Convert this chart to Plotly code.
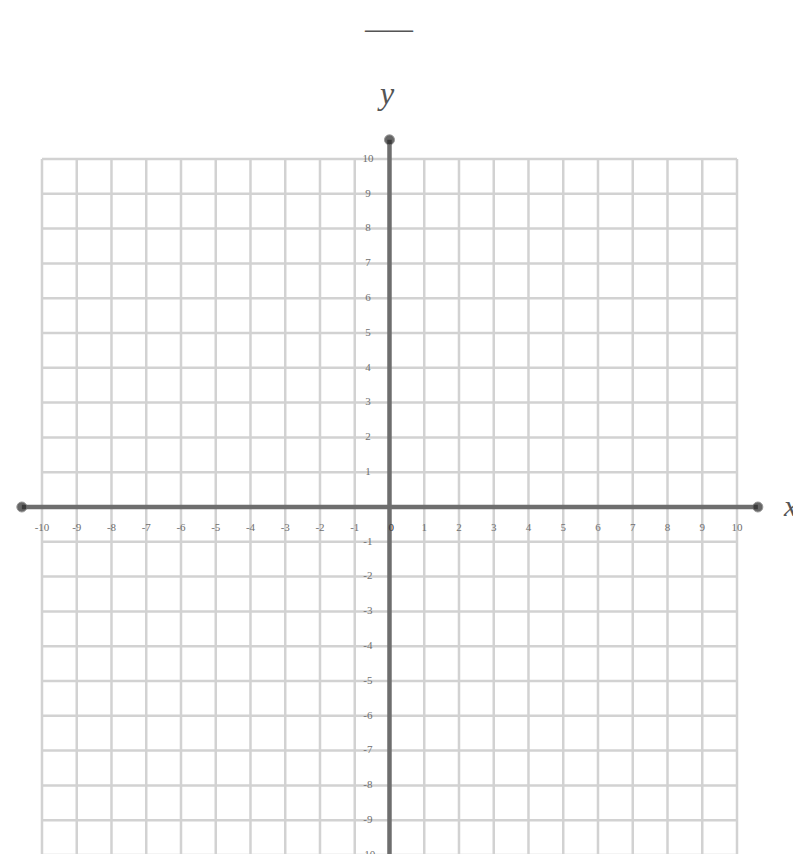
"""Blank coordinate grid, -10..10 on both axes, with arrowed x and y axes."""
import plotly.graph_objects as go

# grid values and tick labels
x_ticks = list(range(-10, 11))
y_ticks = list(range(-10, 11))
x_labels = [str(v) for v in x_ticks if v != 0]
y_labels = [str(v) for v in y_ticks if v != 0]
grid_min, grid_max = -10, 10
axis_x_ends = [-10.58, 10.6]
axis_y_ends = [-10.5, 10.55]

GRID = '#d2d2d2'
AXIS = '#6e6e6e'
LABEL = '#6f6f6f'

fig = go.Figure()

# grid lines (one trace, None-separated)
gx, gy = [], []
for v in x_ticks:
    gx += [v, v, None]
    gy += [grid_min, grid_max, None]
for v in y_ticks:
    gx += [grid_min, grid_max, None]
    gy += [v, v, None]
fig.add_trace(go.Scatter(x=gx, y=gy, mode='lines', line=dict(color=GRID, width=2.5),
                         hoverinfo='skip', showlegend=False))

# axes
fig.add_trace(go.Scatter(x=axis_x_ends, y=[0, 0], mode='lines+markers',
                         line=dict(color=AXIS, width=4.5),
                         marker=dict(color='#262626', size=[10, 10], symbol='circle'),
                         cliponaxis=False, hoverinfo='skip', showlegend=False))
fig.add_trace(go.Scatter(x=[0, 0], y=axis_y_ends, mode='lines+markers',
                         line=dict(color=AXIS, width=4.5),
                         marker=dict(color='#262626', size=[0, 10], symbol='circle'),
                         cliponaxis=False, hoverinfo='skip', showlegend=False))

# tick labels
fig.add_trace(go.Scatter(x=[v for v in x_ticks if v != 0], y=[-0.62] * len(x_labels),
                         mode='text', text=x_labels,
                         textfont=dict(family='Liberation Serif', size=11, color=LABEL),
                         cliponaxis=False, hoverinfo='skip', showlegend=False))
fig.add_trace(go.Scatter(x=[-0.62] * len(y_labels), y=[v for v in y_ticks if v != 0],
                         mode='text', text=y_labels,
                         textfont=dict(family='Liberation Serif', size=11, color=LABEL),
                         cliponaxis=False, hoverinfo='skip', showlegend=False))
fig.add_trace(go.Scatter(x=[0.05], y=[-0.6], mode='text', text=['0'],
                         textfont=dict(family='Liberation Serif', size=11, color='#333333'),
                         cliponaxis=False, hoverinfo='skip', showlegend=False))

# axis names and the dash at the top
fig.add_annotation(x=-0.1, y=11.9, xref='x', yref='y', text='<i>y</i>', showarrow=False,
                   font=dict(family='Liberation Serif', size=32, color='#555555'))
fig.add_annotation(x=11.55, y=0.05, xref='x', yref='y', text='<i>x</i>', showarrow=False,
                   font=dict(family='Liberation Serif', size=30, color='#555555'))
fig.add_annotation(x=0, y=13.75, xref='x', yref='y', text='<b>——</b>', showarrow=False,
                   font=dict(family='Liberation Serif', size=24, color='#555555'))

# ranges account for the 8px page margin so the grid lands where the reference has it
fig.update_xaxes(range=[-10.978, 12.072], visible=False, fixedrange=True)
fig.update_yaxes(range=[-10.201, 14.339], visible=False, fixedrange=True)
fig.update_layout(width=801, height=854, margin=dict(l=0, r=0, t=0, b=0),
                  plot_bgcolor='white', paper_bgcolor='white')

fig.write_html("out.html")
